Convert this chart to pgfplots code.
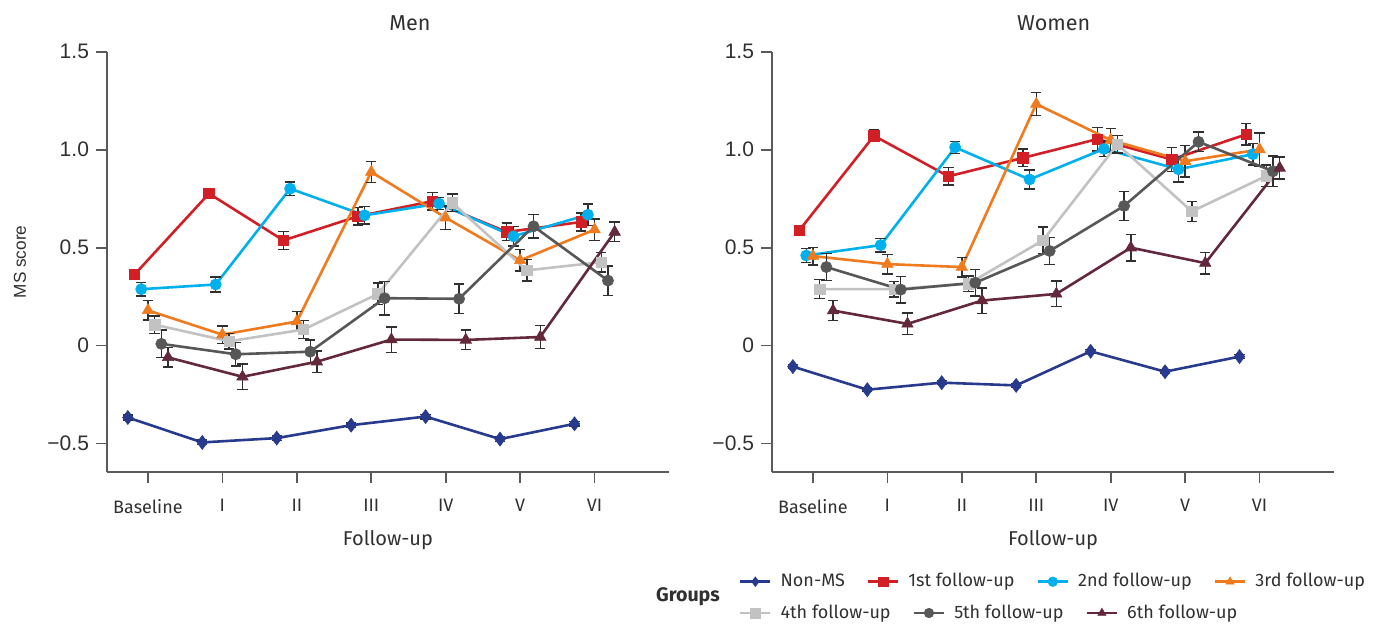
\documentclass[border=0pt]{standalone}
\usepackage{pgfplots}
\pgfplotsset{compat=1.18}
\usepackage{fontspec}
\setmainfont{Fira Sans}
\newfontfamily\arialfont{Liberation Sans}
\definecolor{cNon}{HTML}{283A8E}
\definecolor{cFirst}{HTML}{D21F26}
\definecolor{cSecond}{HTML}{00B0EC}
\definecolor{cThird}{HTML}{F07A1E}
\definecolor{cFourth}{HTML}{C2C2C2}
\definecolor{cFifth}{HTML}{575757}
\definecolor{cSixth}{HTML}{63293A}
\definecolor{axgray}{HTML}{5A5A5A}
\definecolor{txt}{HTML}{303030}
\pgfplotsset{
 ser/.style={line width=1.3pt, mark options={solid, line width=0.3pt},
   error bars/y dir=both, error bars/y explicit,
   error bars/error bar style={line width=0.7pt, draw=txt},
   error bars/error mark options={rotate=90, mark size=2.6pt, line width=0.7pt, draw=txt}},
 nonms/.style={ser, color=cNon, mark=diamond*, mark size=3.5pt},
 first/.style={ser, color=cFirst, mark=square*, mark size=2.6pt},
 second/.style={ser, color=cSecond, mark=*, mark size=2.8pt},
 third/.style={ser, color=cThird, mark=triangle*, mark size=3.3pt},
 fourth/.style={ser, color=cFourth, mark=square*, mark size=2.6pt},
 fifth/.style={ser, color=cFifth, mark=*, mark size=2.8pt},
 sixth/.style={ser, color=cSixth, mark=triangle*, mark size=3.3pt},
 common/.style={
  scale only axis, width=281pt, height=210.15pt,
  xmin=-0.55, xmax=7, ymin=-0.645, ymax=1.5,
  axis lines*=left, axis line style={axgray, line width=0.85pt},
  xtick={0,1,2,3,4,5,6}, xticklabels={Baseline,I,II,III,IV,V,VI},
  ytick={-0.5,0,0.5,1,1.5}, yticklabels={−0.5,0,0.5,1.0,1.5},
  tick align=outside, major tick length=5.5pt,
  tick style={axgray, line width=0.85pt},
  xticklabel style={font=\fontsize{9}{10}\selectfont, text=txt, yshift=-4.5pt},
  yticklabel style={font=\arialfont\fontsize{10.5}{12}\selectfont, text=txt},
  xlabel style={font=\fontsize{10}{12}\selectfont, text=txt, at={(axis description cs:0.5,-0.1737)}, anchor=base},
  clip=false,
  legend cell align=left,
  legend style={draw=none, fill=none, inner sep=0pt, outer sep=0pt,
    font=\fontsize{9}{11}\selectfont, text=txt,
    nodes={inner sep=0pt},
    /tikz/every odd column/.append style={column sep=4.5pt},
    /tikz/every even column/.append style={column sep=11pt}},
  legend image code/.code={\draw[mark repeat=2, mark phase=2, ##1, mark size=2.4pt] plot coordinates {(0pt,0pt) (7.5pt,0pt) (15pt,0pt)};},
 }
}
\begin{document}
\begin{tikzpicture}
\path[use as bounding box] (0,0) rectangle (690pt,311.5pt);
% ---------------- Men ----------------
\begin{axis}[common, at={(53.5pt,75.5pt)}, anchor=south west,
  xlabel={Follow-up}, ylabel={MS score},
  ylabel style={font=\arialfont\fontsize{8.6}{10}\selectfont, text=txt, at={(axis description cs:-0.1548,0.5)}, anchor=center},
  legend columns=4,
  legend style={at={(1.1246,-0.261)}, anchor=west}]
\addplot[nonms] table[x=x,y=y,y error=e] {
x y e
-0.27 -0.367 0.012
0.73 -0.494 0.012
1.73 -0.472 0.012
2.73 -0.406 0.012
3.73 -0.362 0.012
4.73 -0.477 0.012
5.73 -0.399 0.012
};
\addplot[first] table[x=x,y=y,y error=e] {
x y e
-0.18 0.363 0.022
0.82 0.776 0.025
1.82 0.537 0.045
2.82 0.660 0.045
3.82 0.737 0.045
4.82 0.580 0.045
5.82 0.631 0.045
};
\addplot[second] table[x=x,y=y,y error=e] {
x y e
-0.09 0.288 0.035
0.91 0.312 0.038
1.91 0.801 0.035
2.91 0.665 0.045
3.91 0.725 0.030
4.91 0.558 0.050
5.91 0.668 0.055
};
\addplot[third] table[x=x,y=y,y error=e] {
x y e
0 0.180 0.050
1 0.056 0.045
2 0.123 0.050
3 0.886 0.055
4 0.653 0.060
5 0.435 0.055
6 0.592 0.055
};
\addplot[fourth, forget plot] table[x=x,y=y,y error=e] {
x y e
0.09 0.107 0.045
1.09 0.022 0.040
2.09 0.082 0.045
3.09 0.264 0.055
4.09 0.728 0.045
5.09 0.384 0.055
6.09 0.426 0.050
};
\addplot[fifth, forget plot] table[x=x,y=y,y error=e] {
x y e
0.18 0.009 0.070
1.18 -0.044 0.060
2.18 -0.031 0.060
3.18 0.242 0.085
4.18 0.239 0.075
5.18 0.609 0.060
6.18 0.332 0.075
};
\addplot[sixth, forget plot] table[x=x,y=y,y error=e] {
x y e
0.27 -0.060 0.050
1.27 -0.159 0.065
2.27 -0.082 0.055
3.27 0.031 0.065
4.27 0.029 0.050
5.27 0.044 0.060
6.27 0.580 0.050
};
\legend{Non-MS, 1st follow-up, 2nd follow-up, 3rd follow-up}
\end{axis}
% ---------------- Women ----------------
\begin{axis}[common, at={(386pt,75.5pt)}, anchor=south west,
  xlabel={Follow-up},
  legend columns=3,
  legend style={at={(-0.0587,-0.3355)}, anchor=west}]
\addplot[nonms, forget plot] table[x=x,y=y,y error=e] {
x y e
-0.27 -0.107 0.010
0.73 -0.225 0.010
1.73 -0.189 0.010
2.73 -0.203 0.010
3.73 -0.029 0.010
4.73 -0.133 0.010
5.73 -0.056 0.010
};
\addplot[first, forget plot] table[x=x,y=y,y error=e] {
x y e
-0.18 0.590 0.020
0.82 1.071 0.030
1.82 0.864 0.045
2.82 0.958 0.045
3.82 1.054 0.060
4.82 0.950 0.060
5.82 1.078 0.055
};
\addplot[second, forget plot] table[x=x,y=y,y error=e] {
x y e
-0.09 0.460 0.035
0.91 0.513 0.035
1.91 1.012 0.030
2.91 0.848 0.048
3.91 1.004 0.040
4.91 0.900 0.065
5.91 0.977 0.055
};
\addplot[third, forget plot] table[x=x,y=y,y error=e] {
x y e
0 0.457 0.045
1 0.416 0.050
2 0.401 0.050
3 1.233 0.060
4 1.049 0.060
5 0.941 0.080
6 1.001 0.085
};
\addplot[fourth] table[x=x,y=y,y error=e] {
x y e
0.09 0.288 0.048
1.09 0.288 0.040
2.09 0.316 0.040
3.09 0.537 0.068
4.09 1.027 0.044
5.09 0.685 0.050
6.09 0.866 0.055
};
\addplot[fifth] table[x=x,y=y,y error=e] {
x y e
0.18 0.401 0.070
1.18 0.286 0.068
2.18 0.321 0.068
3.18 0.483 0.070
4.18 0.713 0.074
5.18 1.040 0.050
6.18 0.890 0.078
};
\addplot[sixth] table[x=x,y=y,y error=e] {
x y e
0.27 0.179 0.050
1.27 0.111 0.055
2.27 0.230 0.065
3.27 0.264 0.065
4.27 0.500 0.068
5.27 0.421 0.055
6.27 0.907 0.056
};
\legend{4th follow-up, 5th follow-up, 6th follow-up}
\end{axis}
\node[font=\fontsize{10.8}{12}\selectfont, text=txt, anchor=base] at (205pt,296.5pt) {Men};
\node[font=\fontsize{10.8}{12}\selectfont, text=txt, anchor=base] at (526.85pt,296.5pt) {Women};
\node[font=\bfseries\fontsize{9.8}{11}\selectfont, text=txt, anchor=center] at (344pt,13pt) {Groups};
\end{tikzpicture}
\end{document}
